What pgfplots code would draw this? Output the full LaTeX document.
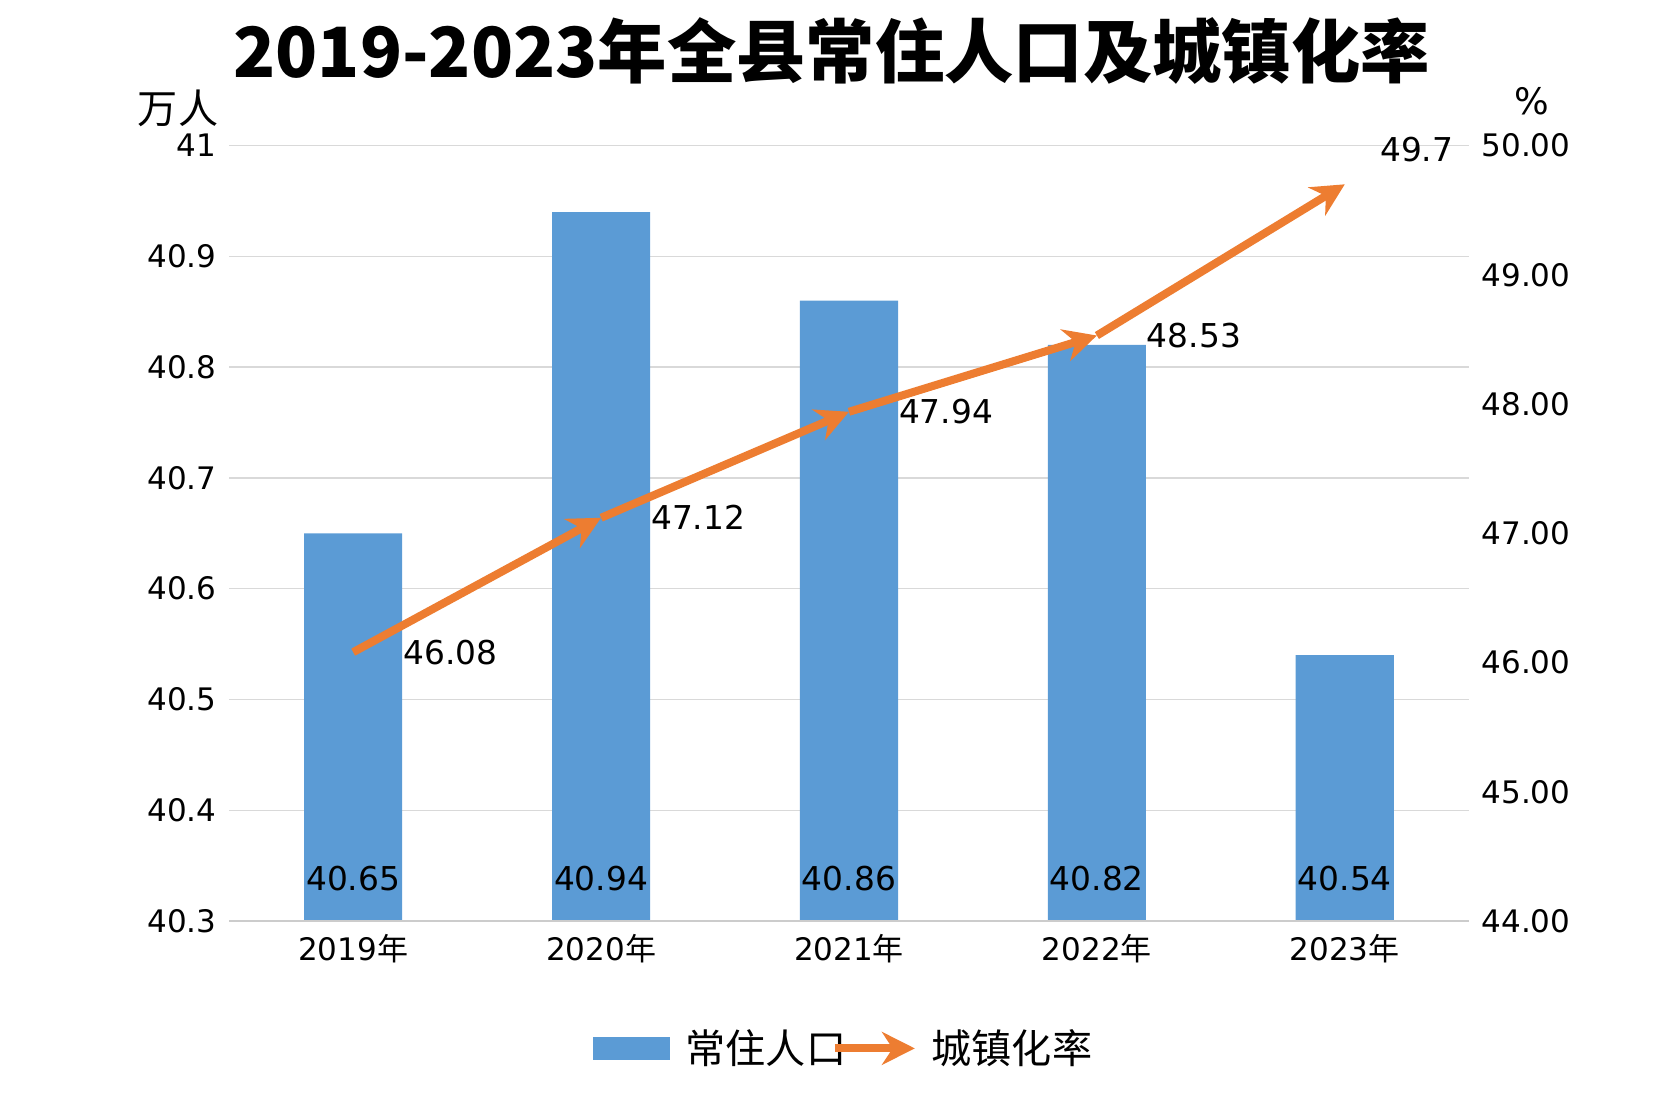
\documentclass[border=0pt]{standalone}
\usepackage{pgfplots}
\pgfplotsset{compat=1.18}
\usepackage{fontspec}
\setmainfont{DejaVu Sans}
\newfontfamily\cjk{Noto Sans CJK SC}
\usetikzlibrary{arrows.meta}
\definecolor{bar}{HTML}{5B9BD5}
\definecolor{ln}{HTML}{ED7D31}
\begin{document}
\begin{tikzpicture}
\useasboundingbox (0,0) rectangle (16cm,10.63cm);
\begin{axis}[at={(2.208cm,1.758cm)},anchor=south west,scale only axis,
 width=11.94cm,height=7.47cm,xmin=-0.5,xmax=4.5,ymin=40.3,ymax=41,
 ytick={40.3,40.4,40.5,40.6,40.7,40.8,40.9,41},
 yticklabels={40.3,40.4,40.5,40.6,40.7,40.8,40.9,41},
 ticklabel style={font=\fontsize{8.5}{10}\selectfont},
 xtick={0,1,2,3,4},xticklabels={2019{\cjk 年},2020{\cjk 年},2021{\cjk 年},2022{\cjk 年},2023{\cjk 年}},
 axis line style={draw=none},tick style={draw=none},
 ymajorgrids,grid style={gray!30},
 clip=false]
\addplot[ybar,bar width=0.945cm,fill=bar,draw=none] coordinates {(0,40.65)(1,40.94)(2,40.86)(3,40.82)(4,40.54)};
\draw[gray!40] (axis cs:-0.5,40.3) -- (axis cs:4.5,40.3);
\node[font=\fontsize{9}{10}\selectfont] at (axis cs:0,40.338) {40.65};
\node[font=\fontsize{9}{10}\selectfont] at (axis cs:1,40.338) {40.94};
\node[font=\fontsize{9}{10}\selectfont] at (axis cs:2,40.338) {40.86};
\node[font=\fontsize{9}{10}\selectfont] at (axis cs:3,40.338) {40.82};
\node[font=\fontsize{9}{10}\selectfont] at (axis cs:4,40.338) {40.54};
\end{axis}
\begin{axis}[at={(2.208cm,1.758cm)},anchor=south west,scale only axis,
 width=11.94cm,height=7.47cm,xmin=-0.5,xmax=4.5,ymin=44,ymax=50,
 axis y line*=right,axis x line=none,
 ytick={44,45,46,47,48,49,50},
 yticklabels={44.00,45.00,46.00,47.00,48.00,49.00,50.00},
 ticklabel style={font=\fontsize{8.5}{10}\selectfont},
 axis line style={draw=none},tick style={draw=none},clip=false]
\addplot[ln,line width=2.2pt,-{Stealth[length=9pt,width=9pt]}] coordinates {(0,46.08)(1,47.12)};
\addplot[ln,line width=2.2pt,-{Stealth[length=9pt,width=9pt]}] coordinates {(1,47.12)(2,47.94)};
\addplot[ln,line width=2.2pt,-{Stealth[length=9pt,width=9pt]}] coordinates {(2,47.94)(3,48.53)};
\addplot[ln,line width=2.2pt,-{Stealth[length=9pt,width=9pt]}] coordinates {(3,48.53)(4,49.7)};
\node[font=\fontsize{9}{10}\selectfont,anchor=west] at (axis cs:0.15,46.08) {46.08};
\node[font=\fontsize{9}{10}\selectfont,anchor=west] at (axis cs:1.15,47.12) {47.12};
\node[font=\fontsize{9}{10}\selectfont,anchor=west] at (axis cs:2.15,47.94) {47.94};
\node[font=\fontsize{9}{10}\selectfont,anchor=west] at (axis cs:3.15,48.53) {48.53};
\node[font=\fontsize{9}{10}\selectfont] at (axis cs:4.29,49.97) {49.7};
\end{axis}
\node[font=\cjk\bfseries\fontsize{19}{22}\selectfont] at (8.011cm,10.139cm) {2019-2023年全县常住人口及城镇化率};
\node[font=\cjk\fontsize{11}{12}\selectfont] at (1.715cm,9.587cm) {万人};
\node[font=\fontsize{10}{12}\selectfont] at (14.758cm,9.659cm) {\%};
\fill[bar] (5.710cm,0.424cm) rectangle (6.450cm,0.639cm);
\node[font=\cjk\fontsize{11}{12}\selectfont,anchor=west] at (6.48cm,0.531cm) {常住人口};
\draw[ln,line width=2.2pt,-{Stealth[length=9pt,width=9pt]}] (8.041cm,0.531cm) -- (8.812cm,0.531cm);
\node[font=\cjk\fontsize{11}{12}\selectfont,anchor=west] at (8.85cm,0.531cm) {城镇化率};
\end{tikzpicture}
\end{document}
